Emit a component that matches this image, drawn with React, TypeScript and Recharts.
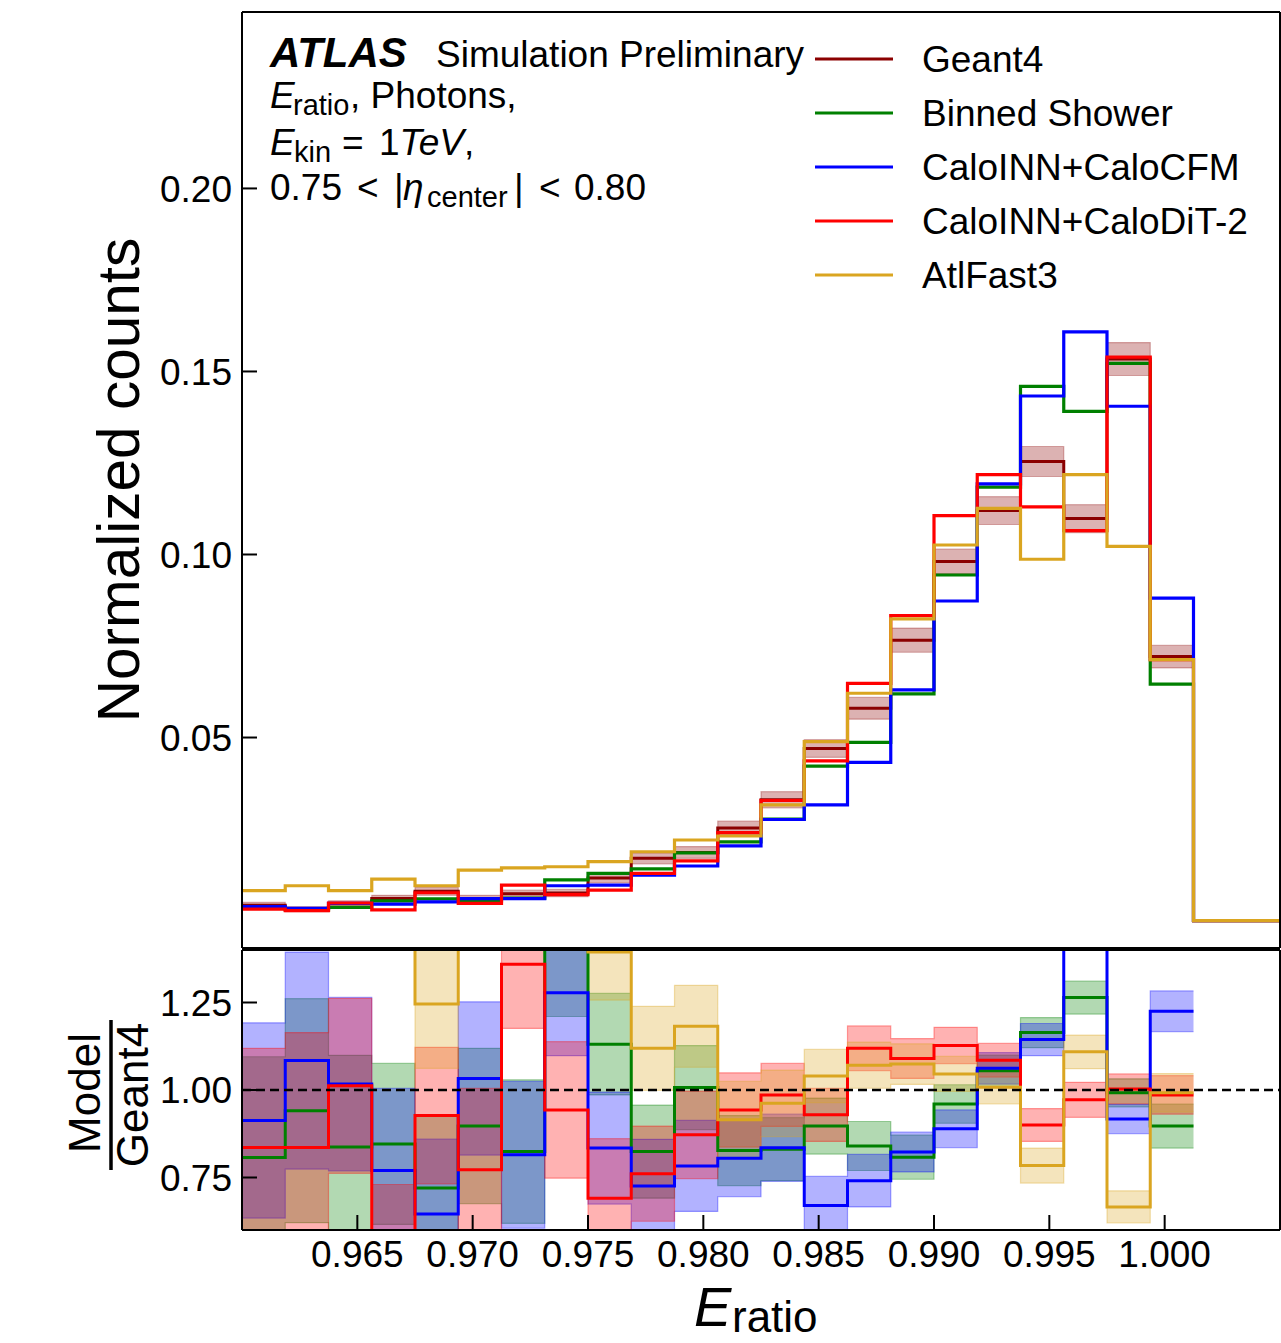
import React from "react";
import { ComposedChart, Line, Area, XAxis, YAxis, ReferenceLine } from "recharts";

const FONT = "'Liberation Sans', Arial, Helvetica, sans-serif";

// binning of E_ratio: 24 equal bins between 0.960 and 1.005
const E_MIN = 0.96;
const E_MAX = 1.005;
const N_BINS = 24;

const xTicks = [0.965, 0.97, 0.975, 0.98, 0.985, 0.99, 0.995, 1.0];
const topTicks = [0.05, 0.1, 0.15, 0.2];
const ratioTicks = [0.75, 1.0, 1.25];

// normalized counts per bin (last two bins are empty)
const geant4 = [0.0042, 0.0031, 0.0046, 0.006, 0.008, 0.006, 0.0073, 0.0075, 0.0116, 0.017, 0.0186, 0.0253, 0.033, 0.047, 0.058, 0.0766, 0.0981, 0.112, 0.1254, 0.1098, 0.1534, 0.0721, 0, 0];
const geant4Err = [0.0008, 0.0007, 0.0008, 0.0009, 0.0011, 0.0009, 0.001, 0.001, 0.0013, 0.0015, 0.0016, 0.0019, 0.0022, 0.0024, 0.003, 0.0033, 0.0034, 0.0038, 0.0041, 0.0038, 0.0045, 0.0031, 0, 0];
const binnedShower = [0.0036, 0.0029, 0.0036, 0.0054, 0.0059, 0.0054, 0.0061, 0.0111, 0.0129, 0.0141, 0.0185, 0.0215, 0.0277, 0.0422, 0.0487, 0.0619, 0.0944, 0.1184, 0.1459, 0.1391, 0.1522, 0.0646, 0, 0];
const caloCFM = [0.0038, 0.0033, 0.0047, 0.0045, 0.0051, 0.006, 0.006, 0.0095, 0.0097, 0.0124, 0.0149, 0.0204, 0.0276, 0.0316, 0.0432, 0.063, 0.0873, 0.1193, 0.1433, 0.1608, 0.1405, 0.0881, 0, 0];
const caloDiT = [0.0031, 0.0027, 0.0048, 0.0029, 0.0076, 0.0047, 0.0097, 0.0071, 0.0083, 0.0129, 0.0163, 0.024, 0.0328, 0.0436, 0.0648, 0.0833, 0.1106, 0.1218, 0.113, 0.1065, 0.1539, 0.0713, 0, 0];
const atlFast3 = [0.0082, 0.0095, 0.0082, 0.0113, 0.0095, 0.0138, 0.0144, 0.0147, 0.0161, 0.0188, 0.022, 0.0231, 0.0316, 0.0489, 0.0621, 0.0824, 0.1026, 0.1126, 0.0987, 0.1218, 0.1022, 0.0713, 0, 0];

// Model / Geant4 per bin with its uncertainty (only the 22 filled bins)
const ratioBinned = [0.807, 0.941, 0.837, 0.846, 0.72, 0.897, 0.824, 1.46, 1.131, 0.824, 1.007, 0.827, 0.831, 0.897, 0.84, 0.808, 0.96, 1.055, 1.164, 1.264, 0.992, 0.897];
const errBinned = [0.288, 0.32, 0.262, 0.23, 0.209, 0.222, 0.205, 0.25, 0.145, 0.133, 0.12, 0.1, 0.09, 0.08, 0.07, 0.063, 0.055, 0.045, 0.043, 0.047, 0.04, 0.063];
const ratioCFM = [0.913, 1.084, 1.017, 0.77, 0.646, 1.033, 0.815, 1.278, 0.834, 0.726, 0.783, 0.805, 0.835, 0.67, 0.741, 0.823, 0.889, 1.062, 1.144, 1.464, 0.917, 1.225];
const errCFM = [0.279, 0.31, 0.248, 0.235, 0.214, 0.219, 0.21, 0.18, 0.16, 0.133, 0.13, 0.11, 0.096, 0.083, 0.075, 0.057, 0.054, 0.045, 0.046, 0.05, 0.042, 0.058];
const ratioDiT = [0.836, 0.836, 1.012, 0.49, 0.927, 0.772, 1.359, 0.943, 0.691, 0.761, 0.872, 0.943, 0.986, 0.929, 1.119, 1.09, 1.127, 1.085, 0.9, 0.972, 1.003, 0.986];
const errDiT = [0.283, 0.328, 0.25, 0.24, 0.195, 0.233, 0.183, 0.195, 0.17, 0.136, 0.125, 0.106, 0.09, 0.076, 0.064, 0.057, 0.052, 0.048, 0.047, 0.05, 0.043, 0.055];
const ratioAF3 = [1.95, 3.06, 1.78, 1.88, 1.246, 2.3, 1.97, 1.96, 1.394, 1.119, 1.182, 0.915, 0.962, 1.04, 1.071, 1.074, 1.046, 1.008, 0.784, 1.109, 0.666, 0.992];
const errAF3 = [0.33, 0.42, 0.32, 0.3, 0.184, 0.32, 0.28, 0.26, 0.137, 0.12, 0.117, 0.11, 0.095, 0.076, 0.066, 0.058, 0.05, 0.048, 0.05, 0.048, 0.046, 0.055];

const legendNames = ["Geant4", "Binned Shower", "CaloINN+CaloCFM", "CaloINN+CaloDiT-2", "AtlFast3"];
const legendColors = ["#8b0000", "#008000", "#0000ff", "#ff0000", "#daa520"];

const models = [
  { key: "bs", color: "#008000", top: binnedShower, ratio: ratioBinned, err: errBinned },
  { key: "cfm", color: "#0000ff", top: caloCFM, ratio: ratioCFM, err: errCFM },
  { key: "dit", color: "#ff0000", top: caloDiT, ratio: ratioDiT, err: errDiT },
  { key: "af3", color: "#daa520", top: atlFast3, ratio: ratioAF3, err: errAF3 },
];

const binW = (E_MAX - E_MIN) / N_BINS;
const edges = Array.from({ length: N_BINS + 1 }, (_, k) => +(E_MIN + k * binW).toFixed(6));

// step data: one row per bin edge, last edge repeats last bin so the step closes
const topData = edges.map((x, k) => {
  const i = Math.min(k, N_BINS - 1);
  const row: any = { x, g4: geant4[i], g4Band: [geant4[i] - geant4Err[i], geant4[i] + geant4Err[i]] };
  models.forEach((m) => (row[m.key] = m.top[i]));
  return row;
});

const nRatio = ratioBinned.length;
const ratioData = edges.map((x, k) => {
  const row: any = { x };
  if (k > nRatio) return row;
  const i = Math.min(k, nRatio - 1);
  models.forEach((m) => {
    row[m.key] = m.ratio[i];
    row[m.key + "Band"] = [m.ratio[i] - m.err[i], m.ratio[i] + m.err[i]];
  });
  return row;
});

const axisStroke = { stroke: "#000", strokeWidth: 2 };
const tickFont = { fontSize: 37, fill: "#000", fontFamily: FONT };

export default function App() {
  return (
    <div style={{ position: "relative", width: 1281, height: 1343, background: "#fff" }}>
      <style>{`body{margin:0}`}</style>

      {/* upper panel: normalized counts */}
      <div style={{ position: "absolute", left: 0, top: 0 }}>
        <ComposedChart width={1281} height={949} data={topData} margin={{ top: 11, right: 0, bottom: 0, left: 0 }}>
          <XAxis xAxisId="b" dataKey="x" type="number" domain={[E_MIN, E_MAX]} allowDataOverflow height={1} tick={false} tickLine={false} axisLine={axisStroke} />
          <XAxis xAxisId="t" orientation="top" dataKey="x" type="number" domain={[E_MIN, E_MAX]} allowDataOverflow height={1} tick={false} tickLine={false} axisLine={axisStroke} />
          <YAxis yAxisId="l" type="number" domain={[-0.0075, 0.2482]} allowDataOverflow ticks={topTicks} interval={0} width={242}
            tickSize={-15} tickMargin={25} tick={tickFont} tickLine={axisStroke} axisLine={axisStroke} tickFormatter={(v: number) => v.toFixed(2)} />
          <YAxis yAxisId="r" orientation="right" type="number" domain={[-0.0075, 0.2482]} allowDataOverflow ticks={topTicks} interval={0} width={1}
            tickSize={-15} tick={false} tickLine={axisStroke} axisLine={axisStroke} />
          <Area xAxisId="b" yAxisId="l" dataKey="g4Band" type="stepAfter" fill="#8b0000" fillOpacity={0.3} stroke="#8b0000" strokeOpacity={0.3} strokeWidth={1.2} isAnimationActive={false} />
          <Line xAxisId="b" yAxisId="l" dataKey="g4" type="stepAfter" stroke="#8b0000" strokeWidth={3} dot={false} activeDot={false} isAnimationActive={false} />
          {models.map((m) => (
            <Line key={m.key} xAxisId="b" yAxisId="l" dataKey={m.key} type="stepAfter" stroke={m.color} strokeWidth={3.2} dot={false} activeDot={false} isAnimationActive={false} />
          ))}
        </ComposedChart>
      </div>

      {/* lower panel: ratio to Geant4 */}
      <div style={{ position: "absolute", left: 0, top: 949 }}>
        <ComposedChart width={1281} height={394} data={ratioData} margin={{ top: 0, right: 0, bottom: 0, left: 0 }}>
          <XAxis xAxisId="b" dataKey="x" type="number" domain={[E_MIN, E_MAX]} allowDataOverflow ticks={xTicks} interval={0} height={113}
            tickSize={-15} tickMargin={26} tick={tickFont} tickLine={axisStroke} axisLine={axisStroke} tickFormatter={(v: number) => v.toFixed(3)} />
          <XAxis xAxisId="t" orientation="top" dataKey="x" type="number" domain={[E_MIN, E_MAX]} allowDataOverflow ticks={xTicks} interval={0} height={1}
            tickSize={-15} tick={false} tickLine={axisStroke} axisLine={axisStroke} />
          <YAxis yAxisId="l" type="number" domain={[0.6, 1.4]} allowDataOverflow ticks={ratioTicks} interval={0} width={242}
            tickSize={-15} tickMargin={25} tick={tickFont} tickLine={axisStroke} axisLine={axisStroke} tickFormatter={(v: number) => v.toFixed(2)} />
          <YAxis yAxisId="r" orientation="right" type="number" domain={[0.6, 1.4]} allowDataOverflow ticks={ratioTicks} interval={0} width={1}
            tickSize={-15} tick={false} tickLine={axisStroke} axisLine={axisStroke} />
          {models.map((m) => (
            <Area key={m.key + "Band"} xAxisId="b" yAxisId="l" dataKey={m.key + "Band"} type="stepAfter" fill={m.color} fillOpacity={0.3}
              stroke={m.color} strokeOpacity={0.35} strokeWidth={1.2} isAnimationActive={false} />
          ))}
          {models.map((m) => (
            <Line key={m.key} xAxisId="b" yAxisId="l" dataKey={m.key} type="stepAfter" stroke={m.color} strokeWidth={3} dot={false} activeDot={false} isAnimationActive={false} />
          ))}
          <ReferenceLine xAxisId="b" yAxisId="l" y={1} stroke="#000" strokeWidth={2.5} strokeDasharray="9 5" />
        </ComposedChart>
      </div>

      {/* annotations, legend and axis titles */}
      <svg width={1281} height={1343} style={{ position: "absolute", left: 0, top: 0, pointerEvents: "none" }} fontFamily={FONT} fill="#000">
        <text x={270} y={67} fontSize={42} fontWeight="bold" fontStyle="italic">ATLAS</text>
        <text x={436} y={67} fontSize={37}>Simulation Preliminary</text>
        <text y={108} fontSize={37}>
          <tspan x={270} fontStyle="italic">E</tspan>
          <tspan x={293} fontSize={29} dy={7}>ratio</tspan>
          <tspan x={350} dy={-7}>, Photons,</tspan>
        </text>
        <text y={155} fontSize={37}>
          <tspan x={270} fontStyle="italic">E</tspan>
          <tspan x={294} fontSize={29} dy={7}>kin</tspan>
          <tspan x={342} dy={-7}>=</tspan>
          <tspan x={379}>1</tspan>
          <tspan fontStyle="italic">TeV</tspan>
          <tspan>,</tspan>
        </text>
        <text y={200} fontSize={37}>
          <tspan x={270}>0.75</tspan>
          <tspan x={357}>&lt;</tspan>
          <tspan x={394}>|</tspan>
          <tspan x={403} fontStyle="italic">η</tspan>
          <tspan x={427} fontSize={29} dy={7}>center</tspan>
          <tspan x={514} dy={-7}>|</tspan>
          <tspan x={539}>&lt;</tspan>
          <tspan x={574}>0.80</tspan>
        </text>

        {legendNames.map((name, i) => (
          <g key={name}>
            <line x1={815} x2={893} y1={59 + i * 54} y2={59 + i * 54} stroke={legendColors[i]} strokeWidth={3} />
            <text x={922} y={72 + i * 54} fontSize={37}>{name}</text>
          </g>
        ))}

        <text transform="translate(139,480) rotate(-90)" textAnchor="middle" fontSize={58.5}>Normalized counts</text>

        <text transform="translate(100,1093) rotate(-90)" textAnchor="middle" fontSize={44}>Model</text>
        <line x1={111} x2={111} y1={1020} y2={1170} stroke="#000" strokeWidth={3.5} />
        <text transform="translate(148,1095) rotate(-90)" textAnchor="middle" fontSize={44}>Geant4</text>

        <text y={1326} fontSize={56}>
          <tspan x={694} fontStyle="italic">E</tspan>
          <tspan x={732} fontSize={44} dy={6}>ratio</tspan>
        </text>
      </svg>
    </div>
  );
}
